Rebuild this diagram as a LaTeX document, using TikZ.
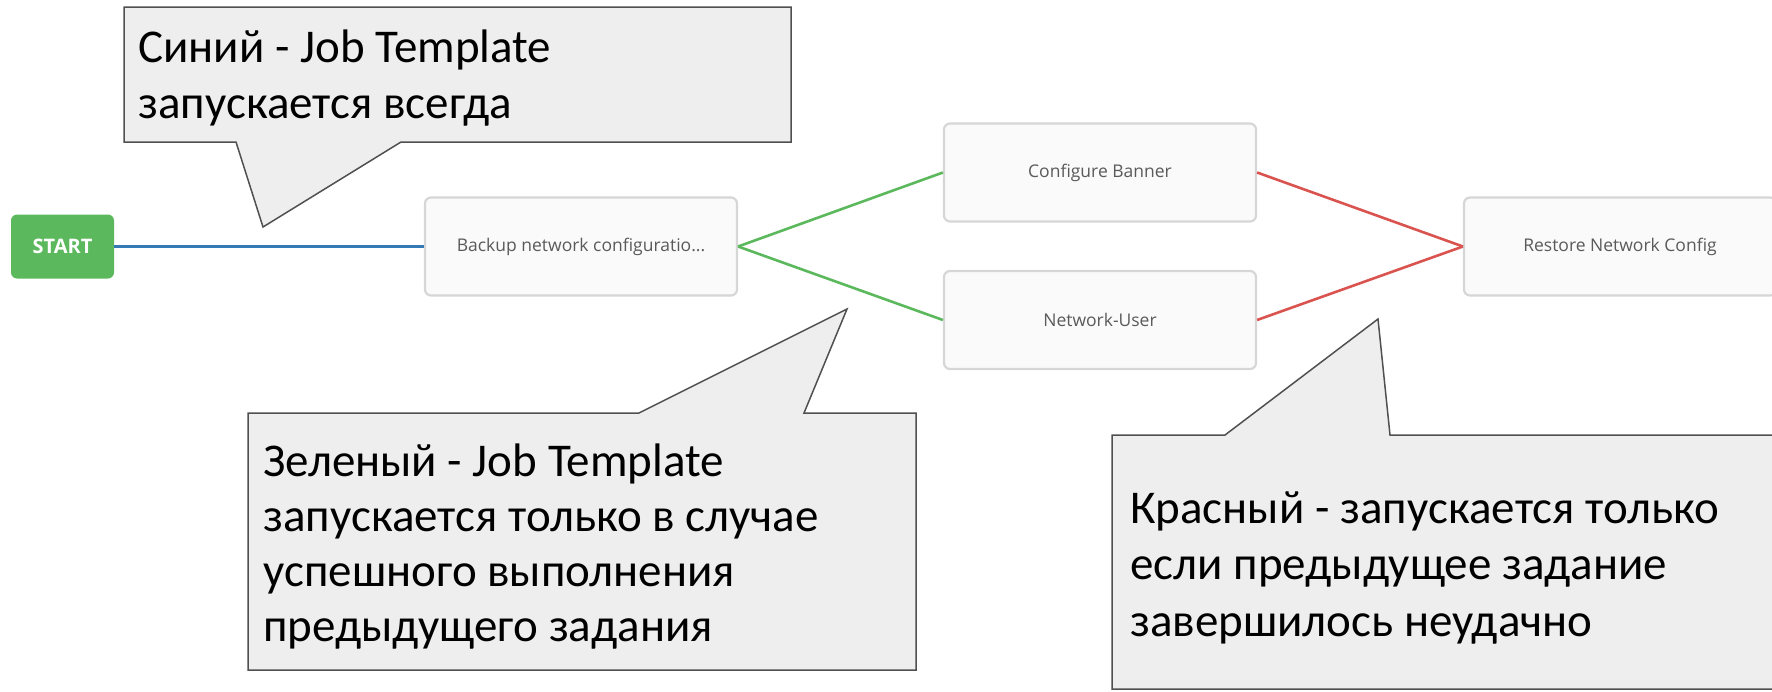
\documentclass[tikz,border=0pt]{standalone}
\usepackage{fontspec}
\setmainfont{Carlito}
\newfontfamily\uifont{Open Sans}
\definecolor{boxline}{HTML}{D6D6D6}
\definecolor{boxfill}{HTML}{FAFAFA}
\definecolor{uigrey}{HTML}{5A5A5A}
\definecolor{okgreen}{HTML}{5CB85C}
\definecolor{runblue}{HTML}{337AB7}
\definecolor{failred}{HTML}{D9534F}
\definecolor{calline}{HTML}{505050}
\definecolor{calfill}{HTML}{EEEEEE}
\begin{document}
\begin{tikzpicture}[x=1pt,y=-1pt,
  job/.style={draw=boxline, fill=boxfill, line width=2.2pt, rounded corners=6pt,
    minimum width=312pt, minimum height=98pt, inner sep=0pt,
    font=\uifont\fontsize{17.5}{20}\selectfont, text=uigrey},
  startbox/.style={fill=okgreen, rounded corners=6pt, minimum width=103pt,
    minimum height=64pt, inner sep=0pt, text=white,
    font=\uifont\bfseries\fontsize{20}{22}\selectfont},
  callout/.style={draw=calline, fill=calfill, line width=1.5pt, line join=miter},
  note/.style={anchor=base west, inner sep=0pt, font=\fontsize{47}{56}\selectfont},
  link/.style={line width=2.6pt}]
\useasboundingbox (0,0) rectangle (1772,691);
\clip (0,0) rectangle (1772,691);

% workflow nodes
\node[startbox] (start)   at (62.5,246.5) {START};
\node[job]      (backup)  at (581,246.5)  {Backup network configuratio...};
\node[job]      (banner)  at (1100,172.5) {Configure Banner};
\node[job]      (netuser) at (1100,320)   {Network-User};
\node[job]      (restore) at (1620,246.5) {Restore Network Config};

% links: always / on success / on failure
\draw[link, runblue]  (start.east)   -- (backup.west);
\draw[link, okgreen]  (backup.east)  -- (banner.west);
\draw[link, okgreen]  (backup.east)  -- (netuser.west);
\draw[link, failred]  (banner.east)  -- (restore.west);
\draw[link, failred]  (netuser.east) -- (restore.west);

% callouts
\draw[callout] (124,7) -- (791,7) -- (791,142) -- (401,142) -- (263,227)
  -- (236,142) -- (124,142) -- cycle;
\draw[callout] (248,413) -- (639,413) -- (847,309) -- (804,413) -- (916,413)
  -- (916,670) -- (248,670) -- cycle;
\draw[callout] (1112,435) -- (1225,435) -- (1378,319) -- (1390,435) -- (1790,435)
  -- (1790,689) -- (1112,689) -- cycle;

\node[note] (blueA) at (138,62)  {Синий - Job Template};
\node[note] (blueB) at (138,118) {запускается всегда};

\node[note] (greenA) at (263,476) {Зеленый - Job Template};
\node[note] (greenB) at (263,531) {запускается только в случае};
\node[note] (greenC) at (263,586) {успешного выполнения};
\node[note] (greenD) at (263,641) {предыдущего задания};

\node[note] (redA) at (1130,523) {Красный - запускается только};
\node[note] (redB) at (1130,579) {если предыдущее задание};
\node[note] (redC) at (1130,636) {завершилось неудачно};
\end{tikzpicture}
\end{document}
